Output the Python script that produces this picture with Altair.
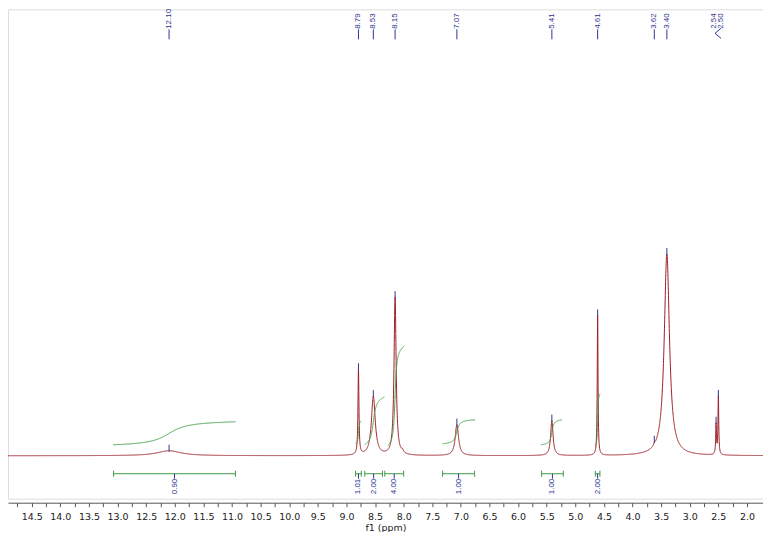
import altair as alt
import numpy as np
import pandas as pd

# ---------------- data ----------------
# spectrum peaks: position (ppm), height (px above baseline), half width (ppm)
peak_ppm    = [12.10, 8.79, 8.53, 8.15, 8.02, 7.07, 5.41, 4.61, 3.62, 3.40, 2.54, 2.50]
peak_height = [5.0, 85.0, 59.0, 158.0, 2.5, 31.0, 35.0, 140.0, 2.0, 202.0, 30.0, 58.0]
peak_hwhm   = [0.25, 0.010, 0.040, 0.022, 0.02, 0.035, 0.025, 0.008, 0.01, 0.055, 0.008, 0.008]

# peak labels at the top
label_text = ["12.10", "8.79", "8.53", "8.15", "7.07", "5.41", "4.61", "3.62", "3.40", "2.54", "2.50"]
label_ppm  = [12.10, 8.79, 8.53, 8.15, 7.07, 5.41, 4.61, 3.62, 3.40, 2.577, 2.454]
marker_ppm = [12.10, 8.79, 8.53, 8.15, 7.07, 5.41, 4.61, 3.62, 3.40, 2.54, 2.50]

# integral bars and their values
int_value = ["0.90", "1.01", "2.00", "4.00", "1.00", "1.00", "2.00"]
int_from  = [13.07, 8.84, 8.68, 8.33, 7.32, 5.59, 4.65]
int_to    = [10.94, 8.74, 8.37, 8.00, 6.76, 5.21, 4.57]

# integral curves: ppm range and start / end level
curve_from = [13.08, 8.84, 8.685, 8.28, 7.32, 5.60, 4.65]
curve_to   = [10.94, 8.74, 8.336, 7.99, 6.75, 5.23, 4.566]
curve_y0   = [11, 12, 11, 10, 12, 11, 10]
curve_y1   = [34, 35, 59, 110, 36, 36, 62]

# axis ticks
tick_values = [2.0 + 0.25 * i for i in range(52)]

# ---------------- build tables ----------------
def spectrum(x):
    x = np.asarray(x, dtype=float)
    s = np.zeros_like(x)
    for p, h, w in zip(peak_ppm, peak_height, peak_hwhm):
        s += h / (1.0 + ((x - p) / w) ** 2)
    return s

XMIN, XMAX = 1.72, 14.915
grid = np.arange(XMIN, XMAX, 0.002)
spec_df = pd.DataFrame({"ppm": grid, "v": spectrum(grid)})

curves = []
for i, (a, b, y0, y1) in enumerate(zip(curve_from, curve_to, curve_y0, curve_y1)):
    xs = np.linspace(a, b, 400)
    cum = np.cumsum(spectrum(xs))
    frac = (cum - cum[0]) / (cum[-1] - cum[0])
    curves.append(pd.DataFrame({"ppm": xs, "v": y0 + (y1 - y0) * frac,
                                "region": i, "k": np.arange(len(xs))}))
curve_df = pd.concat(curves, ignore_index=True)

lab_df = pd.DataFrame({"ppm": label_ppm, "text": label_text})
tops = spectrum(marker_ppm)
marker_df = pd.DataFrame({"ppm": marker_ppm, "v": tops - 1, "v2": tops + 6})

# connectors below the top labels (values = 455 - page pixel row)
conn_ppm  = [12.10, 8.79, 8.53, 8.15, 7.07, 5.41, 4.61, 3.62, 3.40, 2.454, 2.559]
conn_ppm2 = [12.10, 8.79, 8.53, 8.15, 7.07, 5.41, 4.61, 3.62, 3.40, 2.559, 2.454]
conn_v    = [427, 427, 427, 427, 427, 427, 427, 427, 427, 428, 423]
conn_v2   = [417, 417, 417, 417, 417, 417, 417, 417, 417, 423, 418]
conn_df = pd.DataFrame({"ppm": conn_ppm, "ppm2": conn_ppm2, "v": conn_v, "v2": conn_v2})

bar_df = pd.DataFrame({"ppm": int_from, "ppm2": int_to, "v": -18, "v2": -18})
cap_df = pd.DataFrame({"ppm": int_from + int_to, "v": -15, "v2": -21})
mid = [(a + b) / 2 for a, b in zip(int_from, int_to)]
ilab_df = pd.DataFrame({"ppm": mid, "text": int_value, "v": -18, "v2": -23})

# ---------------- chart ----------------
xscale = alt.Scale(domain=[XMIN, XMAX], reverse=True, nice=False, zero=False)
yscale = alt.Scale(domain=[-43, 447], nice=False, zero=False)
xaxis = alt.Axis(values=tick_values,
                 labelExpr="(datum.value * 2) % 1 == 0 ? format(datum.value, '.1f') : ''",
                 title="f1 (ppm)", offset=4, tickSize=4, grid=False,
                 labelOverlap=False, labelFlush=False,
                 domainColor="#555555", tickColor="#555555", labelColor="#222222",
                 titleColor="#222222", labelFont="DejaVu Sans", labelFontSize=9.5,
                 titleFont="DejaVu Sans", titleFontSize=9.5, titleFontWeight="normal",
                 labelPadding=5, titlePadding=1)

X = alt.X("ppm:Q", scale=xscale, axis=xaxis)
Y = alt.Y("v:Q", scale=yscale, axis=None)

RED = "#9e1f27"
GREEN = "#3f9b45"
NAVY = "#2f3590"
LFONT = "Liberation Sans"

spec = alt.Chart(spec_df).mark_line(color=RED, strokeWidth=1, clip=True).encode(x=X, y=Y)

curve = alt.Chart(curve_df).mark_line(color=GREEN, strokeWidth=1).encode(
    x=X, y=Y, detail="region:N", order="k:Q")

markers = alt.Chart(marker_df).mark_rule(color=NAVY, strokeWidth=1).encode(
    x=X, y=Y, y2="v2:Q")

# text y is given in view pixels (view starts 8px below the page top)
labels = alt.Chart(lab_df).mark_text(angle=270, align="left", baseline="middle",
                                     color=NAVY, font=LFONT, fontSize=8).encode(
    x=X, y=alt.value(19.5), text="text:N")

conns = alt.Chart(conn_df).mark_rule(color=NAVY, strokeWidth=1).encode(
    x=X, x2="ppm2:Q", y=Y, y2="v2:Q")

bars = alt.Chart(bar_df).mark_rule(color=GREEN, strokeWidth=1).encode(
    x=X, x2="ppm2:Q", y=Y, y2="v2:Q")

caps = alt.Chart(cap_df).mark_rule(color=GREEN, strokeWidth=1).encode(
    x=X, y=Y, y2="v2:Q")

iconn = alt.Chart(ilab_df).mark_rule(color=NAVY, strokeWidth=1).encode(
    x=X, y=Y, y2="v2:Q")

ilabels = alt.Chart(ilab_df).mark_text(angle=270, align="right", baseline="middle",
                                       color=NAVY, font=LFONT, fontSize=8).encode(
    x=X, y=alt.value(470), text="text:N")

chart = alt.layer(spec, curve, markers, conns, labels, bars, caps, iconn, ilabels).properties(
    width=756, height=490, padding=0
).configure_view(stroke="#777777", strokeWidth=1).configure(background="white")

chart.save("out.html", embed_options={"renderer": "svg", "actions": False})
